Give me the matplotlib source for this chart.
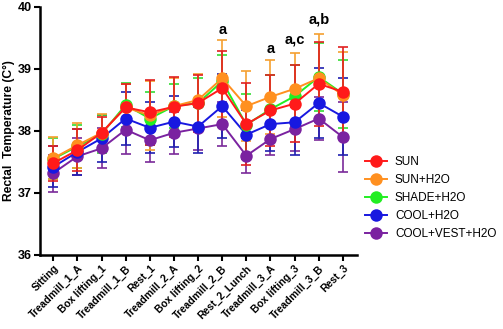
import matplotlib
matplotlib.use("Agg")
import matplotlib.pyplot as plt
from matplotlib.lines import Line2D
import numpy as np

plt.rcParams['font.family'] = ['Liberation Sans', 'DejaVu Sans']

categories = ["Sitting", "Treadmill_1_A", "Box lifting_1", "Treadmill_1_B", "Rest_1",
              "Treadmill_2_A", "Box lifting_2", "Treadmill_2_B", "Rest_2_Lunch",
              "Treadmill_3_A", "Box lifting_3", "Treadmill_3_B", "Rest_3"]

series_names = ["SUN", "SUN+H2O", "SHADE+H2O", "COOL+H2O", "COOL+VEST+H2O"]

sun_mean = [37.48, 37.69, 37.97, 38.38, 38.30, 38.39, 38.45, 38.69, 38.11, 38.33, 38.44, 38.76, 38.63]
sun_sd = [0.28, 0.34, 0.25, 0.38, 0.52, 0.48, 0.46, 0.60, 0.66, 0.58, 0.62, 0.68, 0.73]

sunh2o_mean = [37.56, 37.77, 37.97, 38.38, 38.25, 38.40, 38.50, 38.85, 38.40, 38.55, 38.68, 38.85, 38.58]
sunh2o_sd = [0.34, 0.36, 0.30, 0.38, 0.55, 0.45, 0.42, 0.62, 0.57, 0.60, 0.57, 0.71, 0.70]

shade_mean = [37.55, 37.75, 37.95, 38.42, 38.20, 38.40, 38.45, 38.80, 38.10, 38.35, 38.56, 38.87, 38.60]
shade_sd = [0.33, 0.35, 0.30, 0.35, 0.43, 0.36, 0.40, 0.43, 0.50, 0.55, 0.50, 0.55, 0.55]

cool_mean = [37.42, 37.66, 37.88, 38.20, 38.05, 38.15, 38.07, 38.40, 37.94, 38.11, 38.14, 38.45, 38.23]
cool_sd = [0.33, 0.37, 0.38, 0.43, 0.41, 0.41, 0.43, 0.52, 0.40, 0.44, 0.52, 0.57, 0.62]

vest_mean = [37.32, 37.59, 37.72, 38.02, 37.85, 37.97, 38.04, 38.11, 37.60, 37.87, 38.03, 38.20, 37.90]
vest_sd = [0.30, 0.30, 0.32, 0.39, 0.35, 0.34, 0.35, 0.36, 0.28, 0.25, 0.35, 0.35, 0.56]

annot_labels = ["a", "a", "a,c", "a,b"]
annot_cats = ["Treadmill_2_B", "Treadmill_3_A", "Box lifting_3", "Treadmill_3_B"]
annot_y = [39.63, 39.32, 39.47, 39.79]

colors = ["#ff1a1a", "#ff9020", "#22ee22", "#1818e0", "#7a22a0"]
err_colors = ["#e02020", "#f5a030", "#33dd33", "#2020b0", "#7a2a9a"]

means = [sun_mean, sunh2o_mean, shade_mean, cool_mean, vest_mean]
sds = [sun_sd, sunh2o_sd, shade_sd, cool_sd, vest_sd]

fig = plt.figure(figsize=(5.03, 3.29), dpi=100)
ax = fig.add_axes([0.0795, 0.225, 0.631, 0.754])

x = np.arange(len(categories))
order = [4, 3, 2, 1, 0]
for i in order:
    ax.errorbar(x, means[i], yerr=sds[i], fmt='none', ecolor=err_colors[i],
                elinewidth=1.2, capsize=3.6, capthick=1.2, zorder=2 + (4 - i) * 0.1)
for i in order:
    ax.plot(x, means[i], '-', color=colors[i], lw=1.4, marker='o', markersize=9,
            markeredgewidth=0, zorder=3 + (4 - i) * 0.1)

for lab, c, yv in zip(annot_labels, annot_cats, annot_y):
    ax.text(categories.index(c), yv, lab, ha='center', va='center',
            fontsize=10.5, fontweight='bold')

ax.set_xlim(-0.55, 12.6)
ax.set_ylim(36, 40)
ax.set_yticks([36, 37, 38, 39, 40])
ax.set_xticks(x)
ax.set_xticklabels(categories, rotation=45, ha='right', rotation_mode='anchor',
                   fontsize=7.5, fontweight='bold')
for lbl in ax.get_yticklabels():
    lbl.set_fontweight('bold')
    lbl.set_fontsize(9)
ax.tick_params(axis='both', direction='out', length=4, width=1.5, pad=2)
for s in ['top', 'right']:
    ax.spines[s].set_visible(False)
for s in ['left', 'bottom']:
    ax.spines[s].set_linewidth(1.8)
ax.set_ylabel("Rectal  Temperature (C°)", fontsize=8.7, fontweight='bold', labelpad=1.5)

handles = [Line2D([0], [0], color=colors[i], lw=1.4, marker='o', markersize=9,
                  markeredgewidth=0) for i in range(5)]
fig.legend(handles, series_names, loc='upper left', bbox_to_anchor=(0.717, 0.54),
           frameon=False, fontsize=8.5, handlelength=1.8, handletextpad=0.7,
           labelspacing=0.5, borderaxespad=0)

fig.savefig("out.png", dpi=100)
